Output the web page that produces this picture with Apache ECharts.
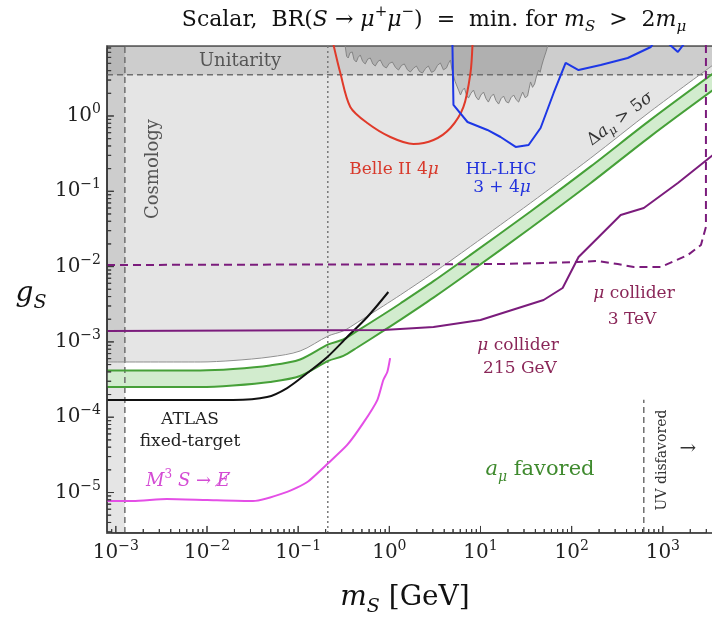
<!DOCTYPE html>
<html>
<head>
<meta charset="utf-8">
<script src="https://cdn.jsdelivr.net/npm/echarts@6/dist/echarts.min.js"></script>
<style>
  html, body { margin: 0; padding: 0; background: #fff; }
  #chart { width: 712px; height: 618px; }
</style>
</head>
<body>
<div id="chart"></div>
<script>
// axis ranges (GeV, coupling)
const X_MIN = 8e-4, X_MAX = 3550;
const Y_MIN = 2.9e-6, Y_MAX = 8.5;
const X_TICKS = [1e-3, 1e-2, 1e-1, 1, 10, 100, 1000];
const Y_TICKS = [1e-5, 1e-4, 1e-3, 1e-2, 1e-1, 1];

// boundaries
const COSMO_M = 1.256e-3;     // cosmology bound
const TWO_MMU = 0.2113;       // 2 m_mu
const UNITARITY_G = 3.54;     // sqrt(4 pi)
const UV_M = 618;
const UV_TOP = 1.7e-4;

// Delta a_mu > 5 sigma (thin grey) and a_mu favoured band
const DELTA_5SIGMA = [[8e-4, 5.41e-4], [8.4e-3, 5.41e-4], [0.0193, 5.66e-4], [0.0492, 6.31e-4], [0.105, 7.57e-4],
  [0.214, 1.20e-3], [0.313, 1.40e-3], [0.445, 1.81e-3], [0.859, 3.0e-3], [1.32, 4.2e-3], [3.05, 8.3e-3],
  [7.76, 0.0185], [35.4, 0.070], [162, 0.277], [738, 1.16], [3550, 4.75]];
const GREEN_HI = [[8e-4, 4.17e-4], [8.4e-3, 4.17e-4], [0.0193, 4.36e-4], [0.0492, 4.87e-4], [0.105, 5.84e-4],
  [0.214, 9.25e-4], [0.313, 1.08e-3], [0.445, 1.40e-3], [0.859, 2.31e-3], [1.32, 3.24e-3], [3.05, 6.4e-3],
  [7.76, 0.0143], [35.4, 0.054], [162, 0.214], [738, 0.894], [3550, 3.66]];
const GREEN_LO = [[8e-4, 2.52e-4], [8.4e-3, 2.52e-4], [0.0193, 2.64e-4], [0.0492, 2.94e-4], [0.105, 3.53e-4],
  [0.214, 5.59e-4], [0.313, 6.52e-4], [0.445, 8.43e-4], [0.859, 1.40e-3], [1.32, 1.96e-3], [3.05, 3.87e-3],
  [7.76, 8.6e-3], [35.4, 0.0326], [162, 0.129], [738, 0.541], [3550, 2.21]];

const ATLAS = [[8e-4, 1.69e-4], [0.0193, 1.69e-4], [0.0456, 1.85e-4], [0.0757, 2.44e-4], [0.126, 3.86e-4],
  [0.209, 6.31e-4], [0.345, 1.16e-3], [0.573, 2.14e-3], [0.975, 4.6e-3]];
const M3 = [[8e-4, 7.7e-6], [1.54e-3, 7.7e-6], [3.63e-3, 8.2e-6], [0.01, 7.95e-6], [0.032, 7.7e-6],
  [0.0757, 1.02e-5], [0.126, 1.38e-5], [0.214, 2.46e-5], [0.345, 4.28e-5], [0.518, 8.4e-5],
  [0.738, 1.69e-4], [0.859, 3.12e-4], [0.95, 3.98e-4], [1.02, 6.1e-4]];
const MUC_215 = [[8e-4, 1.40e-3], [0.859, 1.44e-3], [3.05, 1.58e-3], [10, 1.95e-3], [25.5, 2.8e-3],
  [49.2, 3.6e-3], [79.6, 5.2e-3], [119, 0.0134], [208, 0.0263], [345, 0.0484], [618, 0.060],
  [1462, 0.129], [3550, 0.303]];
const MUC_3TEV = [[8e-4, 0.0105], [16.6, 0.0108], [116, 0.0115], [193, 0.0119], [320, 0.0108], [480, 9.9e-3],
  [950, 9.9e-3], [1885, 0.01426], [2620, 0.0194], [2970, 0.0336], [2970, 10]];
const BELLE = [[0.243, 9.0], [0.290, 3.72], [0.373, 1.32], [0.573, 0.807], [1.026, 0.526], [1.84, 0.425],
  [3.05, 0.48], [4.68, 0.693], [6.5, 1.32], [7.76, 3.72], [8.17, 9.0]];
const HLLHC = [[4.92, 9.0], [5.05, 1.40], [7.2, 0.832], [11.9, 0.652], [16.6, 0.526], [24.3, 0.388],
  [33.7, 0.412], [45.6, 0.693], [63.4, 2.02], [85.9, 5.06], [119, 4.08], [208, 4.75], [412, 5.89],
  [738, 8.25], [900, 12], [1462, 7.08], [2030, 12]];
// noisy grey exclusion near the top
const NOISE = [[0.328, 8.5], [0.34, 6.2], [0.354, 5.89], [0.37, 6.9], [0.392, 7.08], [0.41, 5.6], [0.434, 5.21],
  [0.455, 6.0], [0.480, 6.46], [0.51, 5.3], [0.544, 4.91], [0.58, 5.7], [0.618, 5.89], [0.66, 4.9],
  [0.701, 4.61], [0.75, 5.3], [0.796, 5.54], [0.86, 4.6], [0.927, 4.34], [1.0, 5.0], [1.08, 5.21],
  [1.17, 4.4], [1.26, 4.08], [1.36, 4.7], [1.46, 4.91], [1.58, 4.1], [1.70, 3.84], [1.84, 4.3],
  [1.98, 4.61], [2.14, 3.9], [2.31, 3.72], [2.5, 4.3], [2.68, 4.61], [2.9, 3.8], [3.12, 3.96],
  [3.37, 4.7], [3.63, 5.06], [3.92, 4.1], [4.23, 4.34], [4.45, 5.0], [4.68, 5.54], [4.85, 4.2],
  [5.05, 3.50], [5.25, 2.9], [5.45, 2.58], [5.75, 2.2], [6.03, 1.90], [6.35, 2.2], [6.67, 2.35],
  [7.0, 1.9], [7.38, 1.73], [7.85, 2.0], [8.38, 2.21], [8.9, 1.8], [9.51, 1.63], [10.1, 1.9],
  [10.8, 2.08], [11.5, 1.7], [12.2, 1.53], [13.0, 1.8], [13.9, 1.96], [14.8, 1.6], [15.8, 1.44],
  [16.8, 1.7], [17.9, 1.84], [19.1, 1.55], [20.3, 1.49], [21.6, 1.75], [23.1, 1.90], [24.6, 1.65],
  [26.2, 1.53], [27.6, 1.8], [29.0, 2.08], [30.9, 1.75], [32.8, 1.84], [34.1, 2.3], [35.4, 2.83],
  [37.2, 2.4], [39.2, 2.66], [41.2, 3.4], [43.4, 4.08], [45.1, 3.8], [46.8, 4.61], [48.6, 5.4],
  [50.5, 6.26], [52.5, 7.2], [54.5, 8.5]];

const SERIF = 'DejaVu Serif';

function minorTicks(lo, hi) {
  const out = [];
  for (let e = -7; e <= 4; e++) {
    for (let k = 2; k <= 9; k++) {
      const v = k * Math.pow(10, e);
      if (v > lo && v < hi) out.push(v);
    }
  }
  return out;
}

function powLabel(v) {
  const e = Math.round(Math.log10(v));
  return '{b|10}{e|' + (e < 0 ? '\u2212' + (-e) : e) + '}';
}

const AXIS_RICH = {
  b: { fontFamily: SERIF, fontSize: 20, color: '#222', lineHeight: 27 },
  e: { fontFamily: SERIF, fontSize: 14, color: '#222', lineHeight: 15, verticalAlign: 'top' }
};

function richSet(size, color) {
  const s = Math.round(size * 0.68);
  return {
    i: { fontFamily: SERIF, fontSize: size, fontStyle: 'italic', fill: color },
    sup: { fontFamily: SERIF, fontSize: s, lineHeight: s + 1, verticalAlign: 'top', fill: color },
    isub: { fontFamily: SERIF, fontSize: s, fontStyle: 'italic', lineHeight: s + 1, verticalAlign: 'bottom', fill: color }
  };
}

function txt(x, y, text, size, color, extra) {
  return Object.assign({
    type: 'text', x: x, y: y, z: 100, silent: true,
    style: {
      text: text, fontFamily: SERIF, fontSize: size, lineHeight: Math.round(size * 1.35), fill: color,
      align: 'center', verticalAlign: 'middle', rich: richSet(size, color)
    }
  }, extra || {});
}

// filled region through the axes' own scales
function region(points, style, z) {
  return {
    type: 'custom',
    silent: true,
    z: z,
    data: [points[0]],
    renderItem: function (params, api) {
      const cs = params.coordSys;
      return {
        type: 'polygon',
        shape: { points: points.map(function (p) { return api.coord(p); }) },
        style: style,
        clipPath: { type: 'rect', shape: { x: cs.x, y: cs.y, width: cs.width, height: cs.height } }
      };
    }
  };
}

// inward ticks as a zigzag line running along the axis edge;
// reach is the tick length expressed as a factor on the log axis
function tickLine(values, dir, reach) {
  const pts = [];
  values.forEach(function (v) {
    if (dir === 'x') {
      pts.push([v, Y_MIN], [v, Y_MIN * reach], [v, Y_MIN]);
    } else {
      pts.push([X_MIN, v], [X_MIN * reach, v], [X_MIN, v]);
    }
  });
  return {
    type: 'line', data: pts, symbol: 'none', showSymbol: false, silent: true, clip: true, z: 9,
    lineStyle: { color: '#3a3a3a', width: 1 }
  };
}

function curve(data, color, width, type, smooth) {
  return {
    type: 'line', data: data, symbol: 'none', showSymbol: false, silent: true, clip: true,
    smooth: smooth || false, z: 5,
    lineStyle: { color: color, width: width, type: type || 'solid' }
  };
}

const chart = echarts.init(document.getElementById('chart'), null, { renderer: 'canvas' });

chart.setOption({
  animation: false,
  backgroundColor: '#fff',
  grid: {
    left: 107, right: -1, top: 46, bottom: 85,
    show: true, borderColor: '#555', borderWidth: 1.5,
    containLabel: false, outerBoundsMode: 'none'
  },
  xAxis: {
    type: 'log', logBase: 10, min: X_MIN, max: X_MAX,
    axisLine: { show: true, lineStyle: { color: '#555', width: 1.5 } },
    axisTick: { show: false },
    axisLabel: { customValues: X_TICKS, formatter: powLabel, margin: 6, rich: AXIS_RICH },
    minorTick: { show: false },
    splitLine: { show: false }
  },
  yAxis: {
    type: 'log', logBase: 10, min: Y_MIN, max: Y_MAX,
    axisLine: { show: true, lineStyle: { color: '#555', width: 1.5 } },
    axisTick: { show: false },
    axisLabel: { customValues: Y_TICKS, formatter: powLabel, margin: 6, rich: AXIS_RICH },
    minorTick: { show: false },
    splitLine: { show: false }
  },
  series: [
    region(DELTA_5SIGMA.concat([[X_MAX, Y_MAX], [X_MIN, Y_MAX]]), { fill: 'rgba(0,0,0,0.1)' }, 1),
    region([[X_MIN, Y_MIN], [COSMO_M, Y_MIN], [COSMO_M, Y_MAX], [X_MIN, Y_MAX]], { fill: 'rgba(0,0,0,0.1)' }, 1),
    region([[X_MIN, UNITARITY_G], [X_MAX, UNITARITY_G], [X_MAX, Y_MAX], [X_MIN, Y_MAX]], { fill: 'rgba(0,0,0,0.1)' }, 1),
    region(NOISE, { fill: 'rgba(0,0,0,0.14)', stroke: '#858585', lineWidth: 1 }, 2),
    region(GREEN_HI.concat(GREEN_LO.slice().reverse()), { fill: '#d2ecce' }, 2),

    curve([[COSMO_M, Y_MIN], [COSMO_M, Y_MAX]], '#6f6f6f', 1.5, [6, 4]),
    curve([[X_MIN, UNITARITY_G], [X_MAX, UNITARITY_G]], '#6f6f6f', 1.5, [6, 4]),
    curve([[TWO_MMU, Y_MIN], [TWO_MMU, Y_MAX]], '#777', 1.5, [2, 3]),
    curve([[UV_M, Y_MIN], [UV_M, UV_TOP]], '#6f6f6f', 1.5, [6, 4]),

    curve(DELTA_5SIGMA, '#8f8f8f', 1, 'solid', 0.3),
    curve(GREEN_HI, '#46a038', 2, 'solid', 0.3),
    curve(GREEN_LO, '#46a038', 2, 'solid', 0.3),
    curve(ATLAS, '#111', 2, 'solid', 0.3),
    curve(M3, '#e44fe6', 2, 'solid', 0.2),
    curve(MUC_215, '#7b1c7c', 2),
    curve(MUC_3TEV, '#7b1c7c', 2, [8, 5]),
    curve(BELLE, '#e03a2a', 2, 'solid', 0.3),
    curve(HLLHC, '#1d37e6', 2),

    tickLine(X_TICKS, 'x', 1.24),
    tickLine(minorTicks(X_MIN, X_MAX), 'x', 1.13),
    tickLine(Y_TICKS, 'y', 1.19),
    tickLine(minorTicks(Y_MIN, Y_MAX), 'y', 1.11)
  ],
  graphic: [
    txt(434, 20, 'Scalar,  BR({i|S} \u2192 {i|\u03bc}{sup|+}{i|\u03bc}{sup|\u2212})  =  min. for {i|m}{isub|S}  >  2{i|m}{isub|\u03bc}', 22, '#111'),
    txt(31, 294, '{i|g}{isub|S}', 28, '#111'),
    txt(405, 598, '{i|m}{isub|S} [GeV]', 28, '#111'),
    txt(240, 61, 'Unitarity', 18, '#555'),
    txt(153, 169, 'Cosmology', 18, '#555', { rotation: Math.PI / 2 }),
    txt(394, 170, 'Belle II 4{i|\u03bc}', 17, '#d8392b'),
    txt(501, 170, 'HL-LHC', 17, '#2233dd'),
    txt(502, 188, '3 + 4{i|\u03bc}', 17, '#2233dd'),
    txt(620, 119, '\u0394{i|a}{isub|\u03bc} > 5{i|\u03c3}', 17, '#333', { rotation: 37 * Math.PI / 180 }),
    txt(634, 294, '{i|\u03bc} collider', 17, '#8a2658'),
    txt(632, 320, '3 TeV', 17, '#8a2658'),
    txt(518, 346, '{i|\u03bc} collider', 17, '#8a2658'),
    txt(520, 369, '215 GeV', 17, '#8a2658'),
    txt(190, 420, 'ATLAS', 17, '#222'),
    txt(190, 442, 'fixed-target', 17, '#222'),
    txt(188, 481, '{i|M}{sup|3} {i|S} \u2192 {i|E\u0338}', 18, '#d44cd4'),
    txt(540, 470, '{i|a}{isub|\u03bc} favored', 21, '#3f8a2e'),
    txt(662, 460, 'UV disfavored', 14, '#333', { rotation: Math.PI / 2 }),
    txt(688, 449, '\u2192', 20, '#333')
  ]
});
</script>
</body>
</html>
